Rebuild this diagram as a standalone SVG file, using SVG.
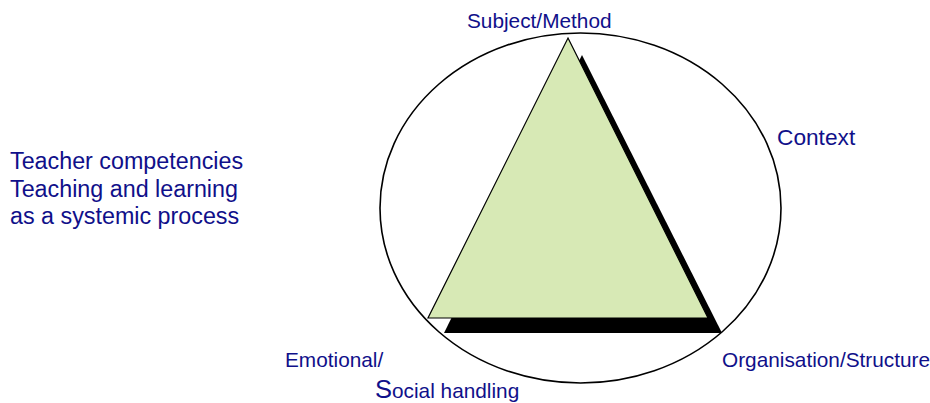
<svg xmlns="http://www.w3.org/2000/svg" width="930" height="403" viewBox="0 0 930 403">
<style>
text{font-family:"Liberation Sans",Arial,sans-serif;fill:#10108a}
.lbl{font-size:20.8px}
.big{font-size:23.3px}
</style>
<rect width="930" height="403" fill="#fff"/>
<g id="context">
<ellipse cx="580.5" cy="208" rx="200.5" ry="175" fill="none" stroke="#000" stroke-width="1.6"/>
<text class="lbl" x="777" y="145" style="font-size:22.7px">Context</text>
</g>
<g id="triangle">
<polygon points="582,55 722,333 444,333" fill="#000"/>
<polygon points="568,38 708,318 428,318" fill="#d7e9b5" stroke="#000" stroke-width="1.2" stroke-linejoin="miter"/>
</g>
<g id="subject"><text class="lbl" x="467" y="28">Subject/Method</text></g>
<g id="organisation"><text class="lbl" x="722" y="367">Organisation/Structure</text></g>
<g id="emotional">
<text class="lbl" x="285" y="367">Emotional/</text>
<text class="lbl" x="375" y="398"><tspan style="font-size:25.5px">S</tspan>ocial handling</text>
</g>
<g id="title">
<text class="big" x="10" y="169">Teacher competencies</text>
<text class="big" x="10" y="197">Teaching and learning</text>
<text class="big" x="10" y="224">as a systemic process</text>
</g>
<g id="connectors"></g>
</svg>
